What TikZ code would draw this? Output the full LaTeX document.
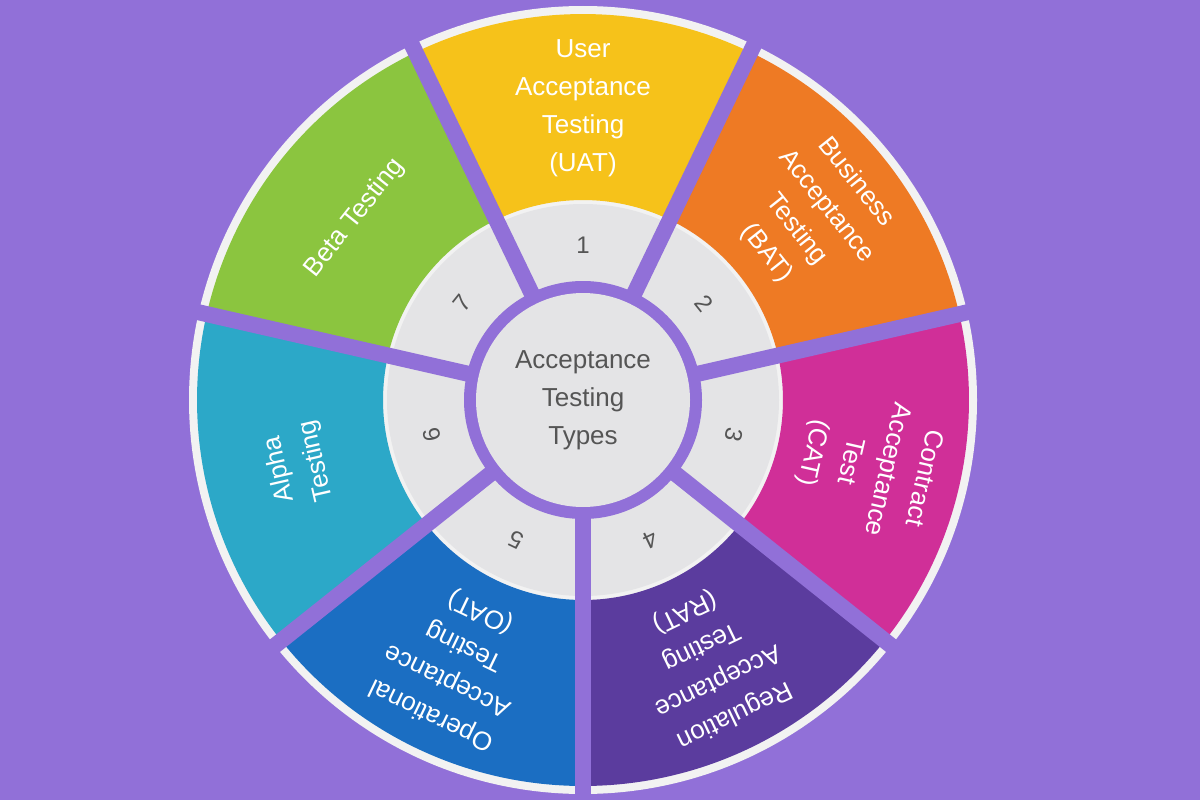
\documentclass[tikz,border=0pt]{standalone}
\usepackage{fontspec}
\setmainfont{Liberation Sans}
\usetikzlibrary{positioning,calc}
\definecolor{bgpurple}{HTML}{9170D8}
\definecolor{ringgray}{HTML}{E4E4E6}
\definecolor{rimwhite}{HTML}{F2F2F2}
\definecolor{c1}{HTML}{F6C21A}
\definecolor{c2}{HTML}{EE7A24}
\definecolor{c3}{HTML}{D02F98}
\definecolor{c4}{HTML}{5B3C9E}
\definecolor{c5}{HTML}{1B6EC2}
\definecolor{c6}{HTML}{2CA8C8}
\definecolor{c7}{HTML}{8BC53F}
\definecolor{txtgray}{HTML}{555555}
\tikzset{segtext/.style={text=white, font=\fontsize{13}{19}\selectfont, align=center},
    numtext/.style={text=txtgray, font=\fontsize{12}{14}\selectfont},
    gapline/.style={bgpurple, line width=8pt}}
\begin{document}
\begin{tikzpicture}[x=0.5pt,y=0.5pt]
    \fill[bgpurple] (0,0) rectangle (1200,800);
    \useasboundingbox (0,0) rectangle (1200,800);
    \coordinate (ctr) at (583,400);
    % outer rim and gray ring
    \fill[rimwhite] (ctr) circle (394);
    \fill[ringgray] (ctr) circle (196);
    % coloured sectors
    \foreach \i/\col in {1/c1,2/c2,3/c3,4/c4,5/c5,6/c6,7/c7}{
        \pgfmathsetmacro{\a}{90-(\i-1)*360/7}
        \fill[\col] ($(ctr)+(\a+25.7:200)$) arc (\a+25.7:\a-25.7:200)
            -- ($(ctr)+(\a-25.7:386)$) arc (\a-25.7:\a+25.7:386) -- cycle;
    }
    % gaps between sectors
    \foreach \k in {0,...,6}{
        \pgfmathsetmacro{\b}{90-25.714-\k*360/7}
        \draw[gapline] (ctr) -- ($(ctr)+(\b:400)$);
    }
    \fill[bgpurple] (ctr) circle (119);
    \fill[ringgray] (ctr) circle (107);
    \node[text=txtgray, font=\fontsize{13}{19}\selectfont, align=center] (core) at (ctr)
        {Acceptance\\Testing\\Types};
    % labels
    \foreach \i/\txt in {1/{User\\Acceptance\\Testing\\(UAT)},
        2/{Business\\Acceptance\\Testing\\(BAT)},
        3/{Contract\\Acceptance\\Test\\(CAT)},
        4/{Regulation\\Acceptance\\Testing\\(RAT)},
        5/{Operational\\Acceptance\\Testing\\(OAT)},
        6/{Alpha\\Testing},
        7/{Beta Testing}}{
        \pgfmathsetmacro{\a}{90-(\i-1)*360/7}
        \node[segtext, rotate=\a-90] (seg\i) at ($(ctr)+(\a:292)$) {\txt};
        \node[numtext, rotate=\a-90] (num\i) at ($(ctr)+(\a:155)$) {\i};
    }
\end{tikzpicture}
\end{document}
